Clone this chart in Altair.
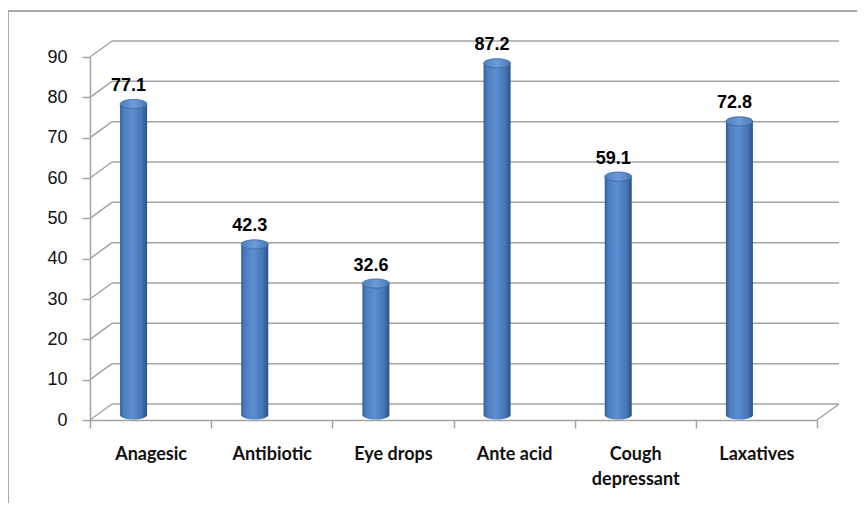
import altair as alt
import pandas as pd

categories = ["Anagesic", "Antibiotic", "Eye drops", "Ante acid", "Cough depressant", "Laxatives"]
values = [77.1, 42.3, 32.6, 87.2, 59.1, 72.8]
grid_values = [0, 10, 20, 30, 40, 50, 60, 70, 80, 90]

W, H = 727, 363
DEPTH_X, DEPTH_Y = 22, -16
BAR_DX, BAR_DY = -17, -5
GRID = "#a3a3a3"

df = pd.DataFrame({"cat": categories, "v": values})
gdf = pd.DataFrame({"g": grid_values})
zero = pd.DataFrame({"g": [0]})

xsc = alt.Scale(domain=categories, paddingInner=0, paddingOuter=0)
ysc = alt.Scale(domain=[0, 90], nice=False)

x_enc = alt.X("cat:N", scale=xsc, sort=categories, title=None,
              axis=alt.Axis(labelAngle=0, tickBand="extent", grid=False,
                            domainColor=GRID, domainWidth=1.5, tickColor=GRID, tickWidth=1.5,
                            tickSize=8, labelFont="Lato", labelFontWeight="bold",
                            labelFontSize=18, labelColor="#111111", labelPadding=17,
                            labelLineHeight=25,
                            labelExpr="datum.label == 'Cough depressant' ? ['Cough', 'depressant'] : datum.label"))
y_axis = alt.Axis(values=grid_values, grid=False, domainColor=GRID, domainWidth=1.5,
                  tickColor=GRID, tickWidth=1.5, tickSize=8, labelFont="Liberation Sans",
                  labelFontSize=18, labelColor="#111111", labelPadding=15, title=None)

# outer frame
frame_top = alt.Chart(zero).mark_rule(color="#a8a8a8", strokeWidth=2).encode(
    x=alt.value(-82), x2=alt.value(W + 60), y=alt.value(-46))
frame_left = alt.Chart(zero).mark_rule(color="#a8a8a8", strokeWidth=2).encode(
    x=alt.value(-82), y=alt.value(-46), y2=alt.value(H + 100))

# back wall gridlines
back = alt.Chart(gdf).mark_rule(color=GRID, strokeWidth=1.5, yOffset=DEPTH_Y, y2Offset=DEPTH_Y).encode(
    y=alt.Y("g:Q", scale=ysc, axis=y_axis),
    x=alt.value(DEPTH_X), x2=alt.value(W + DEPTH_X))
# left wall diagonals
diag = alt.Chart(gdf).mark_rule(color=GRID, strokeWidth=1.5, y2Offset=DEPTH_Y).encode(
    y=alt.Y("g:Q", scale=ysc), y2="g:Q",
    x=alt.value(0), x2=alt.value(DEPTH_X))
# floor right diagonal
floor_r = alt.Chart(zero).mark_rule(color=GRID, strokeWidth=1.5, y2Offset=DEPTH_Y).encode(
    y=alt.Y("g:Q", scale=ysc), y2="g:Q",
    x=alt.value(W), x2=alt.value(W + DEPTH_X))

grad = alt.Gradient(gradient="linear", x1=0, y1=0, x2=1, y2=0, stops=[
    alt.GradientStop(offset=0, color="#2f5a93"),
    alt.GradientStop(offset=0.12, color="#4a7dbf"),
    alt.GradientStop(offset=0.45, color="#5b8fd1"),
    alt.GradientStop(offset=0.8, color="#4676b5"),
    alt.GradientStop(offset=1, color="#2c5185"),
])
ellipse = "M-1,0 A1,0.34 0 1,1 1,0 A1,0.34 0 1,1 -1,0 Z"

bottom_cap = alt.Chart(df).mark_point(shape=ellipse, size=27 * 27, filled=True, opacity=1,
                                      fill=grad, xOffset=BAR_DX, yOffset=BAR_DY).encode(
    x=x_enc, y=alt.datum(0))
bars = alt.Chart(df).mark_bar(width=27, fill=grad, xOffset=BAR_DX, x2Offset=BAR_DX,
                              yOffset=BAR_DY, y2Offset=BAR_DY).encode(
    x=x_enc, y=alt.Y("v:Q", scale=ysc), y2=alt.datum(0))
top_grad = alt.Gradient(gradient="linear", x1=0, y1=0, x2=1, y2=0, stops=[
    alt.GradientStop(offset=0, color="#4f80bf"),
    alt.GradientStop(offset=0.5, color="#6b9bd8"),
    alt.GradientStop(offset=1, color="#4a78b4"),
])
top_cap = alt.Chart(df).mark_point(shape=ellipse, size=27 * 27, filled=True, opacity=1,
                                   fill=top_grad, stroke="#3a669f", strokeWidth=0.8,
                                   xOffset=BAR_DX, yOffset=BAR_DY).encode(
    x=x_enc, y=alt.Y("v:Q", scale=ysc))
labels = alt.Chart(df).mark_text(font="Liberation Sans", fontWeight="bold", fontSize=18,
                                 color="#000000", baseline="alphabetic", align="center",
                                 xOffset=BAR_DX - 5, yOffset=BAR_DY - 13).encode(
    x=x_enc, y=alt.Y("v:Q", scale=ysc), text=alt.Text("v:Q", format=".1f"))

chart = alt.layer(frame_top, frame_left, back, diag, floor_r, bottom_cap, bars, top_cap, labels).properties(
    width=W, height=H,
    autosize=alt.AutoSizeParams(type="none"),
    padding={"left": 82, "top": 49, "right": 40, "bottom": 83},
    background="white",
).configure_view(stroke=None)

chart.save("out.html", embed_options={"renderer": "svg", "actions": False})
